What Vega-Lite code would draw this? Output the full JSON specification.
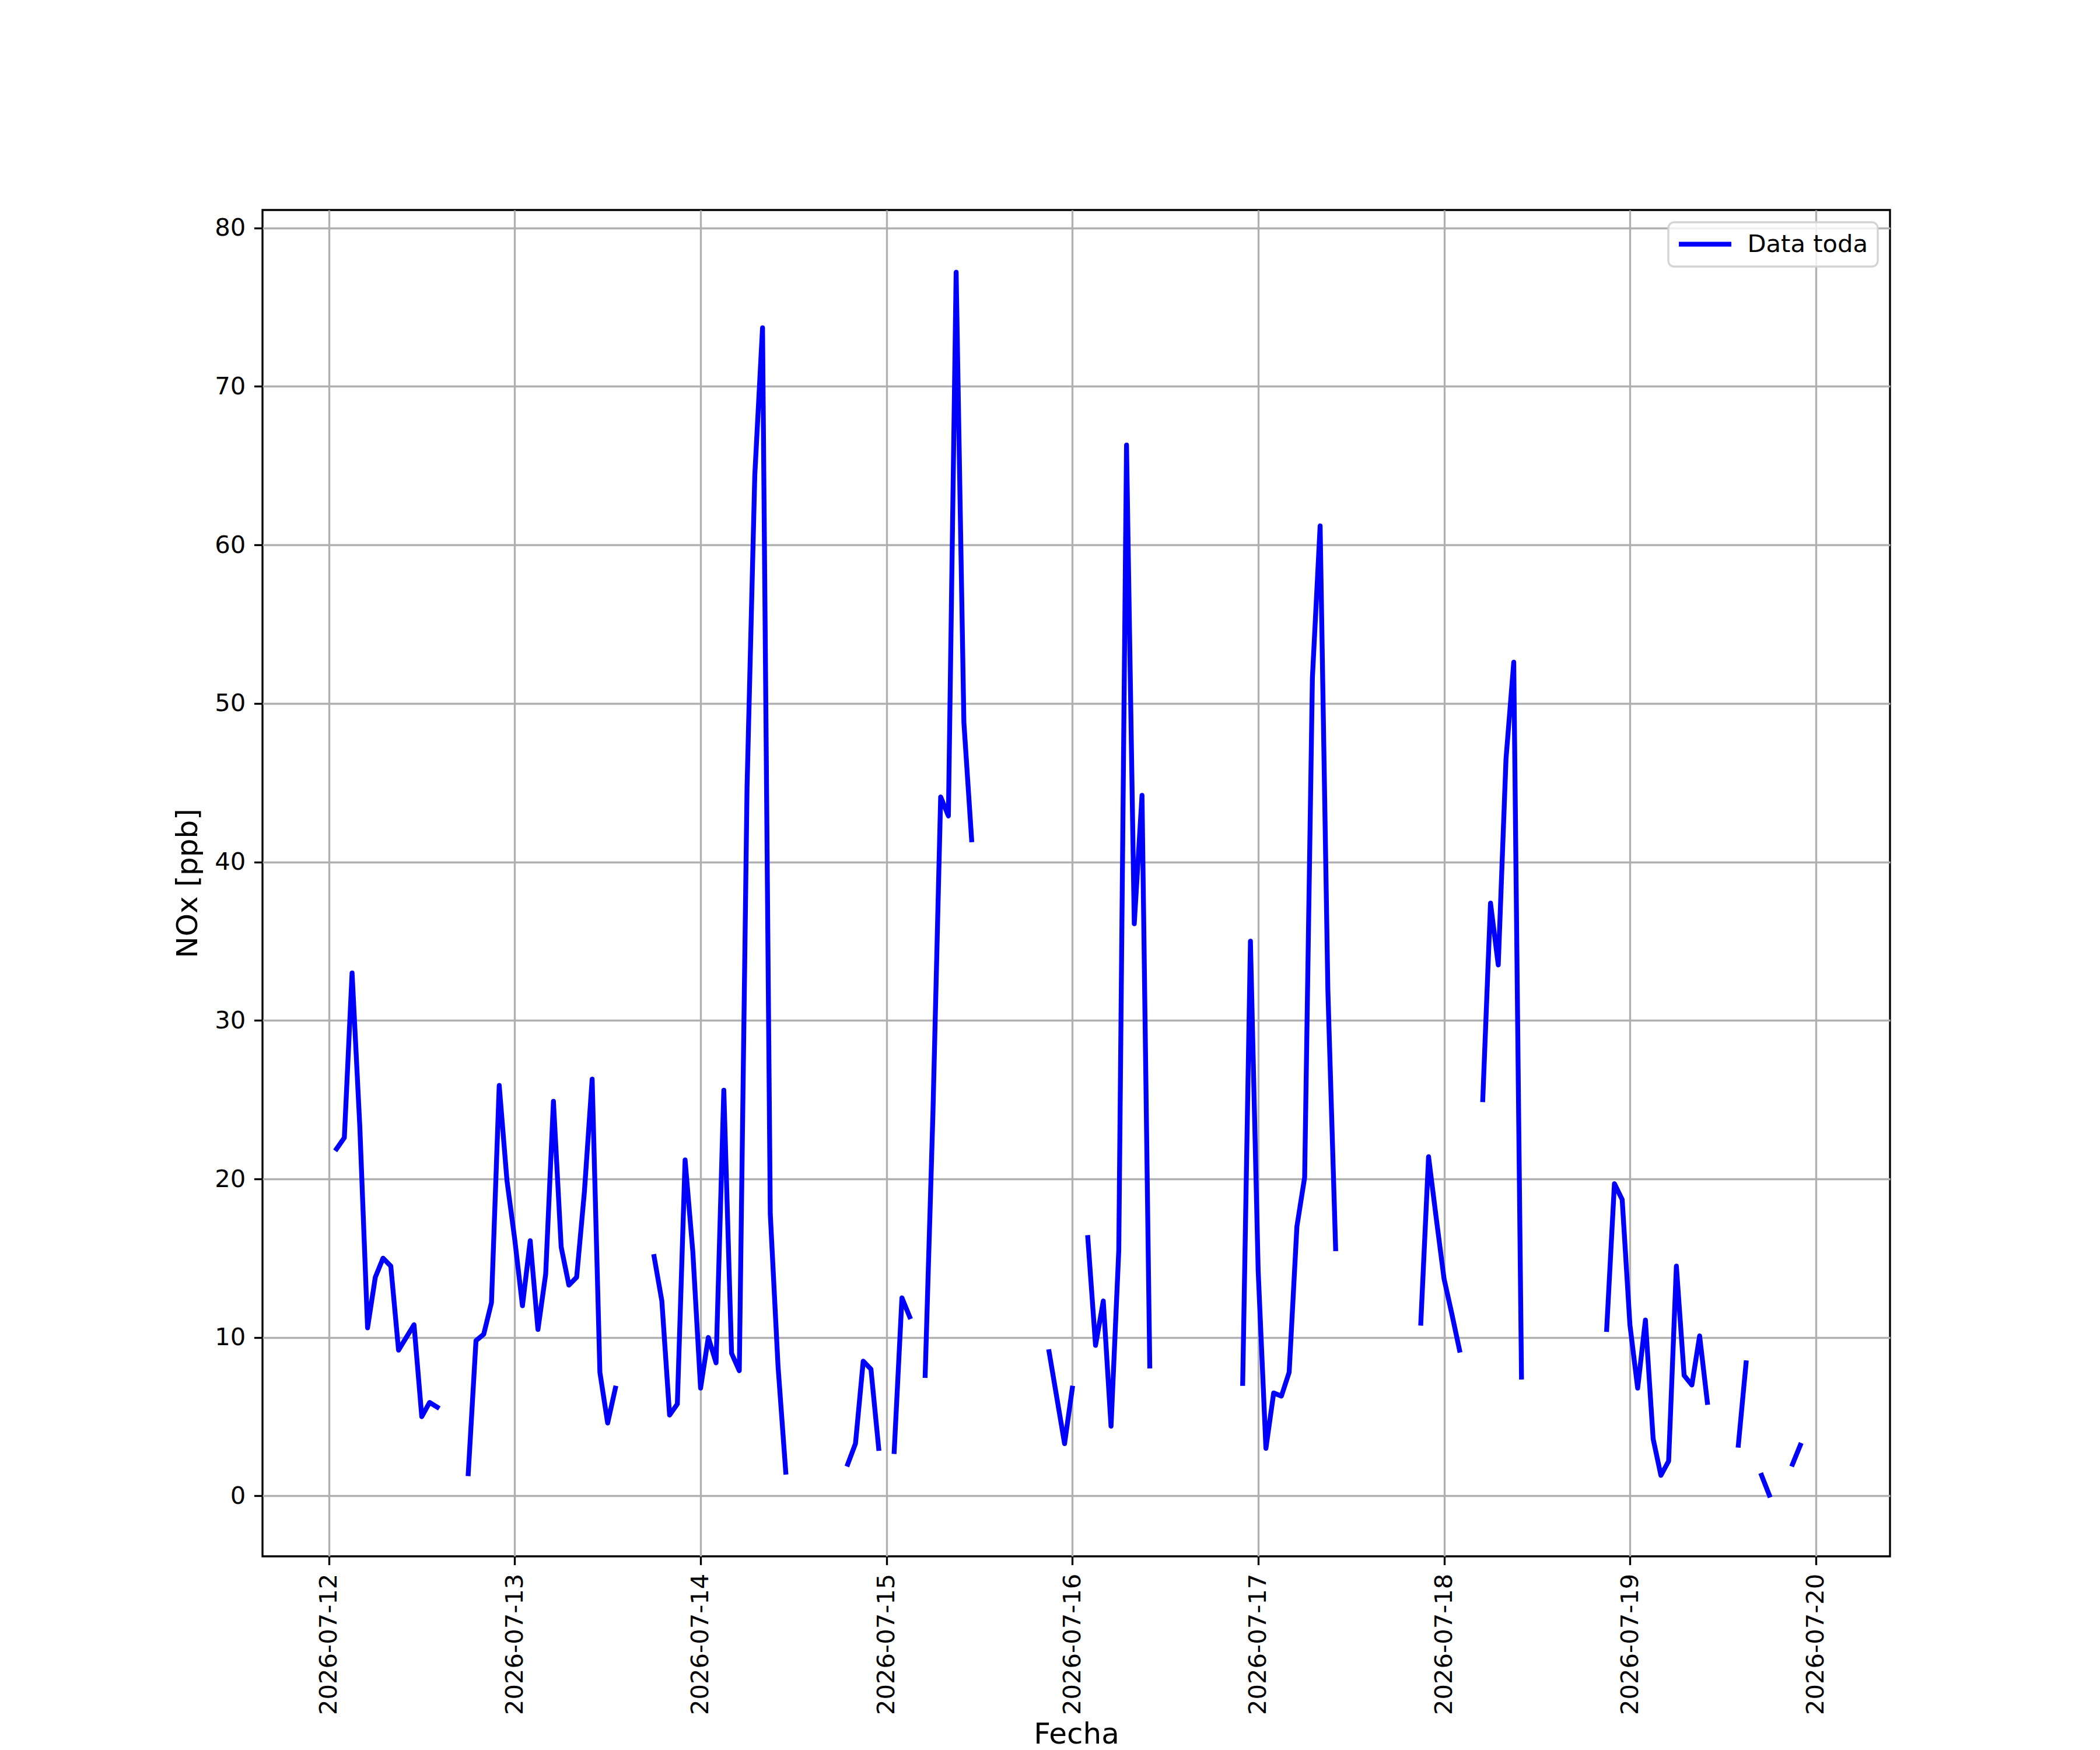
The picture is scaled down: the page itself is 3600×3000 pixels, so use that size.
{
  "$schema": "https://vega.github.io/schema/vega-lite/v6.json",
  "background": "white",
  "width": 2790,
  "height": 2308,
  "autosize": {"type": "none"},
  "padding": {"left": 450, "top": 360, "right": 360, "bottom": 332},
  "data": {
    "values": [
      {"fecha": "2026-07-12T01:00:00", "nox": 21.9, "seg": 1},
      {"fecha": "2026-07-12T02:00:00", "nox": 22.6, "seg": 1},
      {"fecha": "2026-07-12T03:00:00", "nox": 33.0, "seg": 1},
      {"fecha": "2026-07-12T04:00:00", "nox": 23.3, "seg": 1},
      {"fecha": "2026-07-12T05:00:00", "nox": 10.6, "seg": 1},
      {"fecha": "2026-07-12T06:00:00", "nox": 13.8, "seg": 1},
      {"fecha": "2026-07-12T07:00:00", "nox": 15.0, "seg": 1},
      {"fecha": "2026-07-12T08:00:00", "nox": 14.5, "seg": 1},
      {"fecha": "2026-07-12T09:00:00", "nox": 9.2, "seg": 1},
      {"fecha": "2026-07-12T10:00:00", "nox": 10.0, "seg": 1},
      {"fecha": "2026-07-12T11:00:00", "nox": 10.8, "seg": 1},
      {"fecha": "2026-07-12T12:00:00", "nox": 5.0, "seg": 1},
      {"fecha": "2026-07-12T13:00:00", "nox": 5.9, "seg": 1},
      {"fecha": "2026-07-12T14:00:00", "nox": 5.6, "seg": 1},
      {"fecha": "2026-07-12T18:00:00", "nox": 1.4, "seg": 2},
      {"fecha": "2026-07-12T19:00:00", "nox": 9.8, "seg": 2},
      {"fecha": "2026-07-12T20:00:00", "nox": 10.2, "seg": 2},
      {"fecha": "2026-07-12T21:00:00", "nox": 12.2, "seg": 2},
      {"fecha": "2026-07-12T22:00:00", "nox": 25.9, "seg": 2},
      {"fecha": "2026-07-12T23:00:00", "nox": 19.9, "seg": 2},
      {"fecha": "2026-07-13T00:00:00", "nox": 16.2, "seg": 2},
      {"fecha": "2026-07-13T01:00:00", "nox": 12.0, "seg": 2},
      {"fecha": "2026-07-13T02:00:00", "nox": 16.1, "seg": 2},
      {"fecha": "2026-07-13T03:00:00", "nox": 10.5, "seg": 2},
      {"fecha": "2026-07-13T04:00:00", "nox": 14.0, "seg": 2},
      {"fecha": "2026-07-13T05:00:00", "nox": 24.9, "seg": 2},
      {"fecha": "2026-07-13T06:00:00", "nox": 15.7, "seg": 2},
      {"fecha": "2026-07-13T07:00:00", "nox": 13.3, "seg": 2},
      {"fecha": "2026-07-13T08:00:00", "nox": 13.8, "seg": 2},
      {"fecha": "2026-07-13T09:00:00", "nox": 19.2, "seg": 2},
      {"fecha": "2026-07-13T10:00:00", "nox": 26.3, "seg": 2},
      {"fecha": "2026-07-13T11:00:00", "nox": 7.8, "seg": 2},
      {"fecha": "2026-07-13T12:00:00", "nox": 4.6, "seg": 2},
      {"fecha": "2026-07-13T13:00:00", "nox": 6.8, "seg": 2},
      {"fecha": "2026-07-13T18:00:00", "nox": 15.1, "seg": 3},
      {"fecha": "2026-07-13T19:00:00", "nox": 12.3, "seg": 3},
      {"fecha": "2026-07-13T20:00:00", "nox": 5.1, "seg": 3},
      {"fecha": "2026-07-13T21:00:00", "nox": 5.8, "seg": 3},
      {"fecha": "2026-07-13T22:00:00", "nox": 21.2, "seg": 3},
      {"fecha": "2026-07-13T23:00:00", "nox": 15.4, "seg": 3},
      {"fecha": "2026-07-14T00:00:00", "nox": 6.8, "seg": 3},
      {"fecha": "2026-07-14T01:00:00", "nox": 10.0, "seg": 3},
      {"fecha": "2026-07-14T02:00:00", "nox": 8.4, "seg": 3},
      {"fecha": "2026-07-14T03:00:00", "nox": 25.6, "seg": 3},
      {"fecha": "2026-07-14T04:00:00", "nox": 9.0, "seg": 3},
      {"fecha": "2026-07-14T05:00:00", "nox": 7.9, "seg": 3},
      {"fecha": "2026-07-14T06:00:00", "nox": 44.7, "seg": 3},
      {"fecha": "2026-07-14T07:00:00", "nox": 64.4, "seg": 3},
      {"fecha": "2026-07-14T08:00:00", "nox": 73.7, "seg": 3},
      {"fecha": "2026-07-14T09:00:00", "nox": 17.8, "seg": 3},
      {"fecha": "2026-07-14T10:00:00", "nox": 8.2, "seg": 3},
      {"fecha": "2026-07-14T11:00:00", "nox": 1.5, "seg": 3},
      {"fecha": "2026-07-14T19:00:00", "nox": 2.0, "seg": 4},
      {"fecha": "2026-07-14T20:00:00", "nox": 3.3, "seg": 4},
      {"fecha": "2026-07-14T21:00:00", "nox": 8.5, "seg": 4},
      {"fecha": "2026-07-14T22:00:00", "nox": 8.0, "seg": 4},
      {"fecha": "2026-07-14T23:00:00", "nox": 3.0, "seg": 4},
      {"fecha": "2026-07-15T01:00:00", "nox": 2.8, "seg": 5},
      {"fecha": "2026-07-15T02:00:00", "nox": 12.5, "seg": 5},
      {"fecha": "2026-07-15T03:00:00", "nox": 11.3, "seg": 5},
      {"fecha": "2026-07-15T05:00:00", "nox": 7.6, "seg": 6},
      {"fecha": "2026-07-15T06:00:00", "nox": 24.1, "seg": 6},
      {"fecha": "2026-07-15T07:00:00", "nox": 44.1, "seg": 6},
      {"fecha": "2026-07-15T08:00:00", "nox": 42.9, "seg": 6},
      {"fecha": "2026-07-15T09:00:00", "nox": 77.2, "seg": 6},
      {"fecha": "2026-07-15T10:00:00", "nox": 48.8, "seg": 6},
      {"fecha": "2026-07-15T11:00:00", "nox": 41.4, "seg": 6},
      {"fecha": "2026-07-15T21:00:00", "nox": 9.1, "seg": 7},
      {"fecha": "2026-07-15T22:00:00", "nox": 6.2, "seg": 7},
      {"fecha": "2026-07-15T23:00:00", "nox": 3.3, "seg": 7},
      {"fecha": "2026-07-16T00:00:00", "nox": 6.8, "seg": 7},
      {"fecha": "2026-07-16T02:00:00", "nox": 16.3, "seg": 8},
      {"fecha": "2026-07-16T03:00:00", "nox": 9.5, "seg": 8},
      {"fecha": "2026-07-16T04:00:00", "nox": 12.3, "seg": 8},
      {"fecha": "2026-07-16T05:00:00", "nox": 4.4, "seg": 8},
      {"fecha": "2026-07-16T06:00:00", "nox": 15.5, "seg": 8},
      {"fecha": "2026-07-16T07:00:00", "nox": 66.3, "seg": 8},
      {"fecha": "2026-07-16T08:00:00", "nox": 36.1, "seg": 8},
      {"fecha": "2026-07-16T09:00:00", "nox": 44.2, "seg": 8},
      {"fecha": "2026-07-16T10:00:00", "nox": 8.2, "seg": 8},
      {"fecha": "2026-07-16T22:00:00", "nox": 7.1, "seg": 9},
      {"fecha": "2026-07-16T23:00:00", "nox": 35.0, "seg": 9},
      {"fecha": "2026-07-17T00:00:00", "nox": 14.2, "seg": 9},
      {"fecha": "2026-07-17T01:00:00", "nox": 3.0, "seg": 9},
      {"fecha": "2026-07-17T02:00:00", "nox": 6.5, "seg": 9},
      {"fecha": "2026-07-17T03:00:00", "nox": 6.3, "seg": 9},
      {"fecha": "2026-07-17T04:00:00", "nox": 7.8, "seg": 9},
      {"fecha": "2026-07-17T05:00:00", "nox": 17.0, "seg": 9},
      {"fecha": "2026-07-17T06:00:00", "nox": 20.1, "seg": 9},
      {"fecha": "2026-07-17T07:00:00", "nox": 51.6, "seg": 9},
      {"fecha": "2026-07-17T08:00:00", "nox": 61.2, "seg": 9},
      {"fecha": "2026-07-17T09:00:00", "nox": 31.9, "seg": 9},
      {"fecha": "2026-07-17T10:00:00", "nox": 15.6, "seg": 9},
      {"fecha": "2026-07-17T21:00:00", "nox": 10.9, "seg": 10},
      {"fecha": "2026-07-17T22:00:00", "nox": 21.4, "seg": 10},
      {"fecha": "2026-07-17T23:00:00", "nox": 17.5, "seg": 10},
      {"fecha": "2026-07-18T00:00:00", "nox": 13.7, "seg": 10},
      {"fecha": "2026-07-18T01:00:00", "nox": 11.5, "seg": 10},
      {"fecha": "2026-07-18T02:00:00", "nox": 9.2, "seg": 10},
      {"fecha": "2026-07-18T05:00:00", "nox": 25.0, "seg": 11},
      {"fecha": "2026-07-18T06:00:00", "nox": 37.4, "seg": 11},
      {"fecha": "2026-07-18T07:00:00", "nox": 33.5, "seg": 11},
      {"fecha": "2026-07-18T08:00:00", "nox": 46.5, "seg": 11},
      {"fecha": "2026-07-18T09:00:00", "nox": 52.6, "seg": 11},
      {"fecha": "2026-07-18T10:00:00", "nox": 7.5, "seg": 11},
      {"fecha": "2026-07-18T21:00:00", "nox": 10.5, "seg": 12},
      {"fecha": "2026-07-18T22:00:00", "nox": 19.7, "seg": 12},
      {"fecha": "2026-07-18T23:00:00", "nox": 18.7, "seg": 12},
      {"fecha": "2026-07-19T00:00:00", "nox": 10.8, "seg": 12},
      {"fecha": "2026-07-19T01:00:00", "nox": 6.8, "seg": 12},
      {"fecha": "2026-07-19T02:00:00", "nox": 11.1, "seg": 12},
      {"fecha": "2026-07-19T03:00:00", "nox": 3.6, "seg": 12},
      {"fecha": "2026-07-19T04:00:00", "nox": 1.3, "seg": 12},
      {"fecha": "2026-07-19T05:00:00", "nox": 2.2, "seg": 12},
      {"fecha": "2026-07-19T06:00:00", "nox": 14.5, "seg": 12},
      {"fecha": "2026-07-19T07:00:00", "nox": 7.6, "seg": 12},
      {"fecha": "2026-07-19T08:00:00", "nox": 7.0, "seg": 12},
      {"fecha": "2026-07-19T09:00:00", "nox": 10.1, "seg": 12},
      {"fecha": "2026-07-19T10:00:00", "nox": 5.9, "seg": 12},
      {"fecha": "2026-07-19T14:00:00", "nox": 3.2, "seg": 13},
      {"fecha": "2026-07-19T15:00:00", "nox": 8.4, "seg": 13},
      {"fecha": "2026-07-19T17:00:00", "nox": 1.3, "seg": 14},
      {"fecha": "2026-07-19T18:00:00", "nox": 0.05, "seg": 14},
      {"fecha": "2026-07-19T21:00:00", "nox": 2.0, "seg": 15},
      {"fecha": "2026-07-19T22:00:00", "nox": 3.2, "seg": 15}
    ]
  },
  "transform": [{"calculate": "'Data toda'", "as": "serie"}],
  "mark": {
    "type": "line",
    "strokeWidth": 8.33,
    "strokeCap": "square",
    "strokeJoin": "round"
  },
  "encoding": {
    "x": {
      "field": "fecha",
      "type": "temporal",
      "title": "Fecha",
      "scale": {
        "domain": [
          {"year": 2026, "month": 7, "date": 11, "hours": 15, "minutes": 26},
          {"year": 2026, "month": 7, "date": 20, "hours": 9, "minutes": 35}
        ],
        "nice": false
      },
      "axis": {
        "values": [
          {"year": 2026, "month": 7, "date": 12},
          {"year": 2026, "month": 7, "date": 13},
          {"year": 2026, "month": 7, "date": 14},
          {"year": 2026, "month": 7, "date": 15},
          {"year": 2026, "month": 7, "date": 16},
          {"year": 2026, "month": 7, "date": 17},
          {"year": 2026, "month": 7, "date": 18},
          {"year": 2026, "month": 7, "date": 19},
          {"year": 2026, "month": 7, "date": 20}
        ],
        "format": "%Y-%m-%d",
        "labelAngle": 270,
        "titlePadding": 80
      }
    },
    "y": {
      "field": "nox",
      "type": "quantitative",
      "title": "NOx [ppb]",
      "scale": {"domain": [-3.81, 81.13], "nice": false, "zero": false},
      "axis": {
        "values": [0, 10, 20, 30, 40, 50, 60, 70, 80],
        "titlePadding": 20
      }
    },
    "detail": {"field": "seg", "type": "nominal"},
    "color": {
      "field": "serie",
      "type": "nominal",
      "scale": {"range": ["#0000ff"]},
      "legend": {"title": null}
    }
  },
  "config": {
    "font": "DejaVu Sans",
    "view": {"stroke": "black", "strokeWidth": 3.33},
    "axis": {
      "domain": false,
      "grid": true,
      "gridColor": "#b0b0b0",
      "gridWidth": 3.33,
      "gridOpacity": 1,
      "ticks": true,
      "tickColor": "black",
      "tickWidth": 3.33,
      "tickSize": 14.6,
      "labelPadding": 14.6,
      "labelFont": "DejaVu Sans",
      "labelFontSize": 41.7,
      "labelColor": "black",
      "labelLimit": 0,
      "labelOverlap": false,
      "labelFlush": false,
      "titleFont": "DejaVu Sans",
      "titleFontSize": 50,
      "titleFontWeight": "normal",
      "titleColor": "black"
    },
    "legend": {
      "orient": "top-right",
      "offset": 21,
      "padding": 16.7,
      "strokeColor": "#d4d4d4",
      "strokeWidth": 3.33,
      "fillColor": "rgba(255,255,255,0.8)",
      "cornerRadius": 10,
      "symbolType": "M-3,0H3",
      "symbolSize": 900,
      "symbolStrokeWidth": 8.33,
      "symbolOffset": 25.5,
      "labelFont": "DejaVu Sans",
      "labelFontSize": 41.7,
      "labelColor": "black",
      "labelLimit": 0,
      "labelOffset": 51.5
    }
  }
}
